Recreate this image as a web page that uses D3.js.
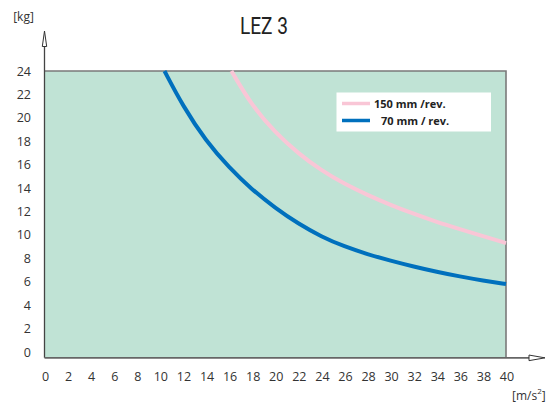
<!DOCTYPE html>
<html>
<head>
<meta charset="utf-8">
<script src="https://d3js.org/d3.v7.min.js"></script>
<style>
  html, body { margin: 0; padding: 0; background: #fff; }
  .chart text { font-family: "Open Sans", "Noto Sans", sans-serif; fill: #333; }
</style>
</head>
<body>
<div class="chart"></div>
<script>
(function(global, htmldoc){

    /* Data */
    var xTicks = [0, 2, 4, 6, 8, 10, 12, 14, 16, 18, 20, 22, 24, 26, 28, 30, 32, 34, 36, 38, 40];
    var yTicks = [0, 2, 4, 6, 8, 10, 12, 14, 16, 18, 20, 22, 24];

    var seriesNames = ["150 mm /rev.", "70 mm / rev."];

    // 150 mm / rev.
    var pinkX = [16.2, 18, 20, 22, 24, 26, 28, 30, 32, 34, 36, 38, 40];
    var pinkY = [24, 21.0, 18.75, 16.95, 15.5, 14.35, 13.4, 12.55, 11.8, 11.1, 10.5, 9.9, 9.3];

    // 70 mm / rev.
    var blueX = [10.4, 12, 14, 16, 18, 20, 22, 24, 26, 28, 30, 32, 34, 36, 38, 40];
    var blueY = [24, 21.0, 18.0, 15.75, 13.85, 12.3, 10.95, 9.85, 9.0, 8.35, 7.8, 7.3, 6.85, 6.45, 6.1, 5.8];

    var W = 548, H = 405;
    var left = 44.5, right = 506, top = 71, zeroY = 352;

    var x = d3.scaleLinear().domain([0, 40]).range([left, right]);
    var y = d3.scaleLinear().domain([0, 24]).range([zeroY, top]);
    var bottom = y(-0.5);

    var svg = d3.select(".chart").append("svg")
                .attr("width", W)
                .attr("height", H);

    // plot area
    svg.append("rect")
        .attr("x", left)
        .attr("y", y(24))
        .attr("width", right - left)
        .attr("height", bottom - y(24))
        .attr("fill", "#c0e3d5");

    // grey frame (top + right)
    svg.append("path")
        .attr("d", "M" + left + "," + y(24) + "H" + right + "V" + bottom)
        .attr("fill", "none")
        .attr("stroke", "#7a7a7a")
        .attr("stroke-width", 1.6);

    // curves
    var line = d3.line()
                 .x(function(d) { return x(d[0]); })
                 .y(function(d) { return y(d[1]); })
                 .curve(d3.curveBasis);

    svg.append("path")
        .datum(d3.zip(pinkX, pinkY))
        .attr("d", line)
        .attr("fill", "none")
        .attr("stroke", "#f9c6d6")
        .attr("stroke-width", 4);

    svg.append("path")
        .datum(d3.zip(blueX, blueY))
        .attr("d", line)
        .attr("fill", "none")
        .attr("stroke", "#0070bd")
        .attr("stroke-width", 4);

    // axes lines with open arrows
    svg.append("line")
        .attr("x1", left).attr("y1", bottom)
        .attr("x2", left).attr("y2", 46)
        .attr("stroke", "#444").attr("stroke-width", 1.3);
    svg.append("path")
        .attr("d", "M" + left + ",31L" + (left + 2.2) + ",46.5H" + (left - 2.2) + "Z")
        .attr("fill", "#fff").attr("stroke", "#333").attr("stroke-width", 1);

    svg.append("line")
        .attr("x1", left).attr("y1", bottom)
        .attr("x2", 529).attr("y2", bottom)
        .attr("stroke", "#666").attr("stroke-width", 1.6);
    svg.append("path")
        .attr("d", "M529," + (bottom - 2.8) + "L545," + bottom + "L529," + (bottom + 2.8) + "Z")
        .attr("fill", "#fff").attr("stroke", "#333").attr("stroke-width", 1);

    // tick labels
    svg.append("g").selectAll("text")
        .data(yTicks)
        .enter()
        .append("text")
        .attr("x", 31)
        .attr("y", function(d) { return y(d) + 4.5; })
        .attr("text-anchor", "end")
        .attr("font-size", 12.5)
        .text(function(d) { return d; });

    svg.append("g").selectAll("text")
        .data(xTicks)
        .enter()
        .append("text")
        .attr("x", function(d) { return x(d) + 1; })
        .attr("y", 381)
        .attr("text-anchor", "middle")
        .attr("font-size", 12.5)
        .text(function(d) { return d; });

    // units
    svg.append("text")
        .attr("x", 23.5).attr("y", 21)
        .attr("text-anchor", "middle")
        .attr("font-size", 12)
        .text("[kg]");

    var unitX = svg.append("text")
        .attr("x", 512).attr("y", 400)
        .attr("font-size", 12);
    unitX.append("tspan").text("[m/s");
    unitX.append("tspan").attr("dy", -6).attr("font-size", 8).text("2");
    unitX.append("tspan").attr("dy", 6).text("]");

    // title (condensed look)
    svg.append("text")
        .attr("x", 240).attr("y", 33.5)
        .attr("font-size", 24)
        .attr("textLength", 48)
        .attr("lengthAdjust", "spacingAndGlyphs")
        .style("font-family", "Roboto, sans-serif")
        .style("fill", "#222")
        .text("LEZ 3");

    // legend
    var legend = svg.append("g");
    legend.append("rect")
        .attr("x", 336.5).attr("y", 92.5)
        .attr("width", 154.5).attr("height", 39)
        .attr("fill", "#fff");

    var legendColors = ["#f9c6d6", "#0070bd"];
    var legendRows = legend.selectAll("g")
        .data(seriesNames)
        .enter()
        .append("g");
    legendRows.append("line")
        .attr("x1", 342).attr("x2", 370)
        .attr("y1", function(d, i) { return 103.5 + i * 17; })
        .attr("y2", function(d, i) { return 103.5 + i * 17; })
        .attr("stroke", function(d, i) { return legendColors[i]; })
        .attr("stroke-width", 3.5);
    legendRows.append("text")
        .attr("x", function(d, i) { return i === 0 ? 374 : 381; })
        .attr("y", function(d, i) { return 107.5 + i * 17; })
        .attr("font-size", 11)
        .attr("font-weight", "bold")
        .style("fill", "#222")
        .text(function(d) { return d; });

})(this, document);
</script>
</body>
</html>
